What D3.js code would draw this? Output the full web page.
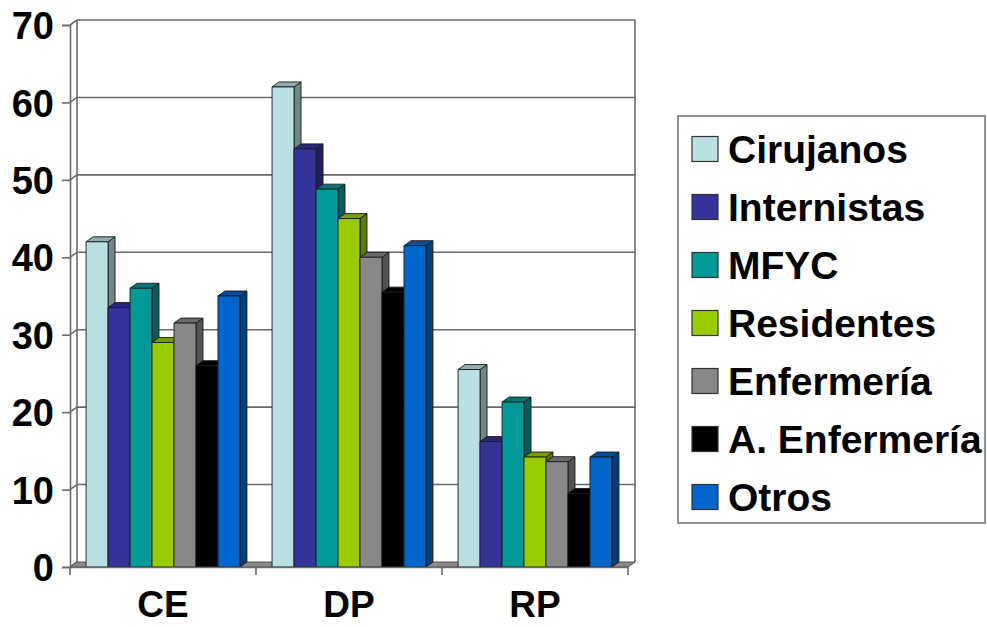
<!DOCTYPE html>
<html>
<head>
<meta charset="utf-8">
<script src="https://cdn.jsdelivr.net/npm/d3@7"></script>
<style>
  body { margin: 0; background: #fff; }
  text { font-family: "Liberation Sans", Arial, sans-serif; font-weight: bold; fill: #000; }
</style>
</head>
<body>
<div id="chart"></div>
<script>
// data
const categories = ["CE", "DP", "RP"];
const series = ["Cirujanos", "Internistas", "MFYC", "Residentes", "Enfermería", "A. Enfermería", "Otros"];
const colors = ["#b9dfe3", "#333399", "#009999", "#99cc00", "#888888", "#000000", "#0066cc"];
const valuesCE = [42, 33.5, 36, 29, 31.5, 26, 35];
const valuesDP = [62, 54, 48.8, 45, 40, 35.5, 41.5];
const valuesRP = [25.5, 16.2, 21.3, 14.2, 13.6, 9.5, 14.2];
const yTicks = [0, 10, 20, 30, 40, 50, 60, 70];

const values = { CE: valuesCE, DP: valuesDP, RP: valuesRP };

const width = 987, height = 627,
  margin = { top: 25, bottom: 60, left: 70, right: 359 },
  depthX = 7, depthY = 5;

const svg = d3.select("#chart").append("svg")
  .attr("width", width).attr("height", height);

// scales
const x0 = d3.scaleBand().domain(categories)
  .range([margin.left, width - margin.right]);
const x1 = d3.scaleBand().domain(series)
  .range([0, x0.bandwidth()])
  .paddingOuter(0.73);
const y = d3.scaleLinear().domain([0, 70])
  .range([height - margin.bottom, margin.top]);

const xL = x0.range()[0], xR = x0.range()[1], y0 = y(0);

// back wall gridlines + left wall
const walls = svg.append("g").attr("stroke", "#6a6a6a").attr("stroke-width", 1.6).attr("fill", "none");
walls.selectAll(".grid").data(yTicks.slice(1)).join("line")
  .attr("x1", xL + depthX).attr("x2", xR + depthX)
  .attr("y1", d => y(d) - depthY).attr("y2", d => y(d) - depthY);
walls.selectAll(".diag").data(yTicks).join("line")
  .attr("x1", xL).attr("x2", xL + depthX)
  .attr("y1", d => y(d)).attr("y2", d => y(d) - depthY);
walls.append("line")
  .attr("x1", xL + depthX).attr("x2", xL + depthX)
  .attr("y1", y(70) - depthY).attr("y2", y0 - depthY);
walls.append("line")
  .attr("x1", xR + depthX).attr("x2", xR + depthX)
  .attr("y1", y(70) - depthY).attr("y2", y0 - depthY);

// floor
svg.append("path")
  .attr("d", `M${xL},${y0}L${xR},${y0}L${xR + depthX},${y0 - depthY}L${xL + depthX},${y0 - depthY}Z`)
  .attr("fill", "#8a8a8a").attr("stroke", "#555").attr("stroke-width", 1);

// bars (left to right so sides are overlapped correctly)
const bars = [];
categories.forEach(c => {
  series.forEach((s, i) => bars.push({ cat: c, ser: s, i: i, v: values[c][i] }));
});

const barG = svg.append("g").attr("stroke", "#1a1a1a").attr("stroke-width", 0.9).attr("stroke-linejoin", "round");
const bw = x1.bandwidth();
bars.forEach(d => {
  const bx = x0(d.cat) + x1(d.ser), by = y(d.v);
  const col = d3.color(colors[d.i]);
  const g = barG.append("g");
  // side
  g.append("path")
    .attr("d", `M${bx + bw},${by}L${bx + bw + depthX},${by - depthY}L${bx + bw + depthX},${y0 - depthY}L${bx + bw},${y0}Z`)
    .attr("fill", col.darker(1.4));
  // top
  g.append("path")
    .attr("d", `M${bx},${by}L${bx + bw},${by}L${bx + bw + depthX},${by - depthY}L${bx + depthX},${by - depthY}Z`)
    .attr("fill", col.darker(0.7));
  // front
  g.append("rect")
    .attr("x", bx).attr("y", by)
    .attr("width", bw).attr("height", y0 - by)
    .attr("fill", col);
});

// y axis
const yAxis = d3.axisLeft(y).tickValues(yTicks).tickSize(8).tickPadding(8);
const ya = svg.append("g")
  .attr("transform", `translate(${xL},0)`)
  .call(yAxis);
ya.select(".domain").attr("stroke", "#6a6a6a").attr("stroke-width", 1.6);
ya.selectAll(".tick line").attr("stroke", "#6a6a6a").attr("stroke-width", 1.6);
ya.selectAll(".tick text").style("font-size", "38px").style("font-family", "Liberation Sans, Arial, sans-serif")
  .style("font-weight", "bold").attr("dy", "0.36em");

// x axis
const xAxis = d3.axisBottom(x0).tickSize(0).tickPadding(24);
const xa = svg.append("g")
  .attr("transform", `translate(0,${y0})`)
  .call(xAxis);
xa.select(".domain").attr("stroke", "#6a6a6a").attr("stroke-width", 1.6);
xa.selectAll(".tick text").style("font-size", "37px").style("font-family", "Liberation Sans, Arial, sans-serif")
  .style("font-weight", "bold");
// boundary ticks between categories
xa.selectAll(".bound").data(categories.map(c => x0(c)).concat([xR])).join("line")
  .attr("x1", d => d).attr("x2", d => d)
  .attr("y1", 0).attr("y2", 8)
  .attr("stroke", "#6a6a6a").attr("stroke-width", 1.6);

// legend
const legend = svg.append("g").attr("transform", "translate(678,116)");
legend.append("rect")
  .attr("width", 307).attr("height", 407)
  .attr("fill", "#fff").attr("stroke", "#777").attr("stroke-width", 1.6);
const item = legend.selectAll(".item").data(series).join("g")
  .attr("transform", (d, i) => `translate(14,${33 + i * 58})`);
item.append("rect")
  .attr("x", 0).attr("y", -12.5).attr("width", 26).attr("height", 25)
  .attr("fill", (d, i) => colors[i])
  .attr("stroke", "#333").attr("stroke-width", 1.2);
item.append("text")
  .attr("x", 36).attr("dy", "0.36em")
  .style("font-size", "39px")
  .text(d => d);
</script>
</body>
</html>
